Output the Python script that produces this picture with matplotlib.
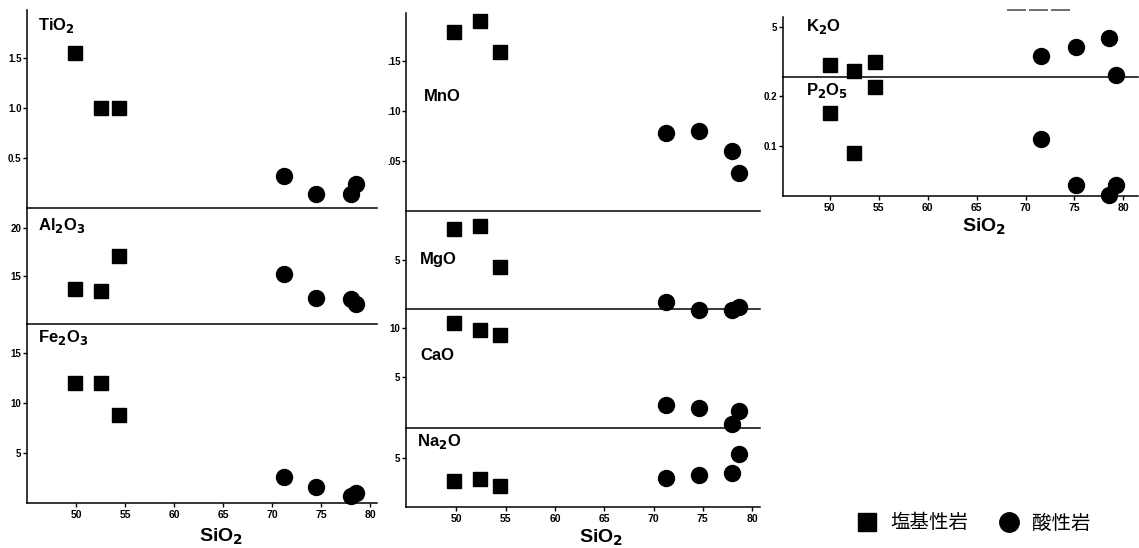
import matplotlib
matplotlib.use("Agg")
import matplotlib.pyplot as plt
from matplotlib.lines import Line2D

plt.rcParams['font.family'] = ['Liberation Sans', 'DejaVu Sans']
plt.rcParams['font.weight'] = 'bold'
plt.rcParams['mathtext.default'] = 'bf'

W, H = 1139, 548

# SiO2 (wt%) of the samples
SIO2_LEFT_BASIC = [49.9, 52.5, 54.4]
SIO2_LEFT_ACID = [71.2, 74.5, 78.0, 78.6]
SIO2_MID_BASIC = [49.8, 52.4, 54.4]
SIO2_MID_ACID = [71.3, 74.6, 78.0, 78.7]
SIO2_RIGHT_BASIC = [50.0, 52.5, 54.6]
SIO2_RIGHT_ACID = [71.6, 75.2, 78.5, 79.3]
SIO2_TICKS = [50, 55, 60, 65, 70, 75, 80]

# oxides (wt%), basic rocks (squares) and acid rocks (circles)
TIO2_BASIC = [1.55, 1.0, 1.0]
TIO2_ACID = [0.32, 0.14, 0.14, 0.24]
AL2O3_BASIC = [13.6, 13.4, 17.1]
AL2O3_ACID = [15.2, 12.7, 12.6, 12.05]
FE2O3_BASIC = [12.0, 12.0, 8.8]
FE2O3_ACID = [2.6, 1.6, 0.7, 1.0]
MNO_BASIC = [0.179, 0.19, 0.159]
MNO_ACID = [0.078, 0.080, 0.060, 0.038]
MGO_BASIC = [8.1, 8.4, 4.2]
MGO_ACID = [0.7, -0.1, -0.1, 0.2]
CAO_BASIC = [10.5, 9.8, 9.3]
CAO_ACID = [2.1, 1.8, 0.2, 1.5]
NA2O_BASIC = [2.6, 2.8, 2.1]
NA2O_ACID = [2.9, 3.2, 3.4, 5.4]
K2O_BASIC = [1.2, 0.6, 1.5]
K2O_ACID = [2.1, 3.0, 3.9, 0.2]
P2O5_BASIC = [0.167, 0.087, 0.219]
P2O5_ACID = [0.115, 0.023, 0.002, 0.023]

LEGEND_LABELS = ['塩基性岩', '酸性岩']


def px_axes(fig, left, top, right, bottom):
    """Axes placed with pixel edges measured from the top-left corner."""
    return fig.add_axes([left / W, 1 - bottom / H, (right - left) / W, (bottom - top) / H])


def panel(fig, box, xlim, ylim, xb, yb, xa, ya, yticks, yticklabels,
          name, name_pos, last=False):
    ax = px_axes(fig, *box)
    ax.patch.set_visible(False)
    ax.plot(xb, yb, 's', color='black', ms=10.5, clip_on=False)
    ax.plot(xa, ya, 'o', color='black', ms=11.5, clip_on=False)
    ax.set_xlim(*xlim)
    ax.set_ylim(*ylim)
    ax.spines['top'].set_visible(False)
    ax.spines['right'].set_visible(False)
    ax.spines['left'].set_linewidth(1.1)
    ax.spines['bottom'].set_linewidth(1.1)
    ax.set_yticks(yticks, yticklabels)
    ax.tick_params(axis='y', direction='out', length=3, width=1, labelsize=7, pad=1)
    if last:
        ax.set_xticks(SIO2_TICKS)
        ax.tick_params(axis='x', direction='out', length=3, width=1, labelsize=7.5, pad=2)
    else:
        ax.set_xticks([])
    ax.text(name_pos[0], name_pos[1], name, transform=ax.transAxes,
            fontsize=12, fontweight='bold', va='center', ha='left')
    return ax


def main():
    fig = plt.figure(figsize=(W / 100, H / 100), dpi=100)

    # left column
    xl = (45.0, 80.7)
    panel(fig, (27, 10, 377, 208), xl, (0, 1.98), SIO2_LEFT_BASIC, TIO2_BASIC,
          SIO2_LEFT_ACID, TIO2_ACID, [0.5, 1.0, 1.5], ['0.5', '1.0', '1.5'],
          'TiO$_2$', (0.031, 0.92))
    panel(fig, (27, 208, 377, 324), xl, (10, 22.1), SIO2_LEFT_BASIC, AL2O3_BASIC,
          SIO2_LEFT_ACID, AL2O3_ACID, [15, 20], ['15', '20'],
          'Al$_2$O$_3$', (0.031, 0.853))
    ax = panel(fig, (27, 324, 377, 503), xl, (0, 17.9), SIO2_LEFT_BASIC, FE2O3_BASIC,
               SIO2_LEFT_ACID, FE2O3_ACID, [5, 10, 15], ['5', '10', '15'],
               'Fe$_2$O$_3$', (0.031, 0.927), last=True)
    ax.set_xlabel('SiO$_2$', fontsize=14, fontweight='bold')
    ax.xaxis.set_label_coords(0.554, -0.135)

    # middle column
    xm = (44.9, 80.8)
    panel(fig, (406, 13, 760, 211), xm, (0, 0.198), SIO2_MID_BASIC, MNO_BASIC,
          SIO2_MID_ACID, MNO_ACID, [0.05, 0.10, 0.15], ['.05', '.10', '.15'],
          'MnO', (0.05, 0.576))
    panel(fig, (406, 211, 760, 309), xm, (0, 9.9), SIO2_MID_BASIC, MGO_BASIC,
          SIO2_MID_ACID, MGO_ACID, [5], ['5'],
          'MgO', (0.04, 0.51))
    panel(fig, (406, 309, 760, 428), xm, (-0.2, 11.9), SIO2_MID_BASIC, CAO_BASIC,
          SIO2_MID_ACID, CAO_ACID, [5, 10], ['5', '10'],
          'CaO', (0.04, 0.613))
    ax = panel(fig, (406, 428, 760, 507), xm, (0, 8.0), SIO2_MID_BASIC, NA2O_BASIC,
               SIO2_MID_ACID, NA2O_ACID, [5], ['5'],
               'Na$_2$O', (0.031, 0.827), last=True)
    ax.set_xlabel('SiO$_2$', fontsize=14, fontweight='bold')
    ax.xaxis.set_label_coords(0.551, -0.26)

    # right column
    xr = (45.2, 81.5)
    panel(fig, (783, 17, 1138, 77), xr, (0, 6.0), SIO2_RIGHT_BASIC, K2O_BASIC,
          SIO2_RIGHT_ACID, K2O_ACID, [5], ['5'],
          'K$_2$O', (0.064, 0.84))
    ax = panel(fig, (783, 77, 1138, 196), xr, (0, 0.238), SIO2_RIGHT_BASIC, P2O5_BASIC,
               SIO2_RIGHT_ACID, P2O5_ACID, [0.1, 0.2], ['0.1', '0.2'],
               'P$_2$O$_5$', (0.064, 0.885), last=True)
    ax.set_xlabel('SiO$_2$', fontsize=14, fontweight='bold')
    ax.xaxis.set_label_coords(0.566, -0.174)

    # short dashed mark at the top of the right column
    fig.add_artist(Line2D([1007 / W, 1070 / W], [1 - 10 / H, 1 - 10 / H],
                          transform=fig.transFigure, color='#555555', lw=1.2,
                          linestyle=(0, (11.4, 1.8))))

    # legend
    handles = [Line2D([], [], marker='s', color='black', ls='none', ms=13),
               Line2D([], [], marker='o', color='black', ls='none', ms=14)]
    fig.legend(handles, LEGEND_LABELS, loc='center', bbox_to_anchor=(974 / W, 1 - 523 / H),
               ncol=2, frameon=False, handlelength=1.0, handletextpad=0.7,
               columnspacing=1.6,
               prop={'family': ['Noto Sans CJK JP', 'DejaVu Sans'], 'size': 14,
                     'weight': 'normal'})

    fig.savefig('out.png', dpi=100)


if __name__ == "__main__":
    main()
